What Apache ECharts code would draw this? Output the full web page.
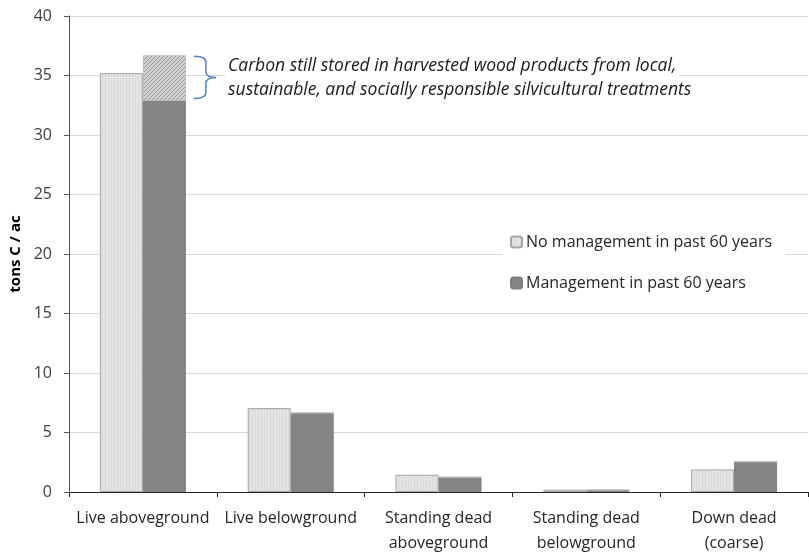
<!DOCTYPE html>
<html>
<head>
<meta charset="utf-8">
<script src="https://cdn.jsdelivr.net/npm/echarts@6/dist/echarts.min.js"></script>
<style>
  html, body { margin: 0; padding: 0; background: #ffffff; }
  #chart { width: 809px; height: 552px; }
</style>
</head>
<body>
<div id="chart"></div>
<script>
  // categories and values (tons C / ac)
  var categories = ['Live aboveground', 'Live belowground', 'Standing dead\naboveground', 'Standing dead\nbelowground', 'Down dead\n(coarse)'];
  var noManagement = [35.2, 7.05, 1.45, 0.2, 1.9];
  var management = [32.9, 6.65, 1.25, 0.17, 2.55];
  var harvestedWood = [3.8, 0, 0, 0, 0];
  var yTicks = [0, 5, 10, 15, 20, 25, 30, 35, 40];
  var noteLines = [
    'Carbon still stored in harvested wood products from local,',
    'sustainable, and socially responsible silvicultural treatments'
  ];

  var FONT = '"Open Sans", sans-serif';

  // small canvas patterns to imitate the excel fills
  function makePattern(w, h, draw) {
    var c = document.createElement('canvas');
    c.width = w; c.height = h;
    draw(c.getContext('2d'));
    return {image: c, repeat: 'repeat'};
  }
  var lightFill = makePattern(3, 3, function (g) {
    g.fillStyle = '#e4e4e4'; g.fillRect(0, 0, 3, 3);
    g.fillStyle = '#d9d9d9'; g.fillRect(0, 0, 1, 3);
  });
  var darkFill = makePattern(2, 2, function (g) {
    g.fillStyle = '#8a8a8a'; g.fillRect(0, 0, 2, 2);
    g.fillStyle = '#7f7f7f'; g.fillRect(0, 0, 1, 1); g.fillRect(1, 1, 1, 1);
  });
  var hatchFill = makePattern(4, 4, function (g) {
    g.fillStyle = '#d0d0d0'; g.fillRect(0, 0, 4, 4);
    g.fillStyle = '#999999';
    for (var i = 0; i < 4; i++) { g.fillRect(i, 3 - i, 1, 1); }
  });

  var myChart = echarts.init(document.getElementById('chart'));
  var option = {
    animation: false,
    textStyle: {fontFamily: FONT},
    grid: {left: 69, right: 1, top: 16, bottom: 60, outerBoundsMode: 'none', containLabel: false},
    legend: {
      orient: 'vertical',
      left: 502,
      top: 230,
      itemWidth: 11,
      itemHeight: 11,
      itemGap: 25,
      padding: [4, 14, 4, 8],
      backgroundColor: '#ffffff',
      data: ['No management in past 60 years', 'Management in past 60 years'],
      textStyle: {fontFamily: FONT, fontSize: 16, color: '#262626', padding: [0, 0, 0, -1]}
    },
    xAxis: {
      type: 'category',
      data: categories,
      axisLine: {lineStyle: {color: '#262626', width: 1}},
      axisTick: {show: true, length: 5, lineStyle: {color: '#262626'}},
      axisLabel: {fontFamily: FONT, fontSize: 16, color: '#262626', lineHeight: 25, margin: 14, interval: 0}
    },
    yAxis: {
      type: 'value',
      min: 0,
      max: 40,
      interval: 5,
      name: 'tons C / ac',
      nameLocation: 'middle',
      nameGap: 46,
      nameTextStyle: {fontFamily: FONT, fontSize: 15, fontWeight: 'bold', color: '#000000'},
      axisLine: {show: true, lineStyle: {color: '#595959'}},
      axisTick: {show: true, length: 5, lineStyle: {color: '#595959'}},
      axisLabel: {fontFamily: FONT, fontSize: 16, color: '#404040', margin: 17,
        formatter: function (v) { return yTicks.indexOf(v) >= 0 ? v : ''; }},
      splitLine: {lineStyle: {color: '#d9d9d9'}}
    },
    series: [{
      name: 'No management in past 60 years',
      type: 'bar',
      stack: 'none',
      barWidth: 43,
      barGap: '0%',
      data: noManagement,
      itemStyle: {color: lightFill, borderColor: '#a6a6a6', borderWidth: 1}
    }, {
      name: 'Management in past 60 years',
      type: 'bar',
      stack: 'mgmt',
      barWidth: 43,
      barGap: '0%',
      data: management,
      itemStyle: {color: darkFill, borderColor: '#7f7f7f', borderWidth: 1}
    }, {
      name: 'Harvested wood products',
      type: 'bar',
      stack: 'mgmt',
      barWidth: 43,
      barGap: '0%',
      data: harvestedWood,
      itemStyle: {color: hatchFill, borderColor: '#bdbdbd', borderWidth: 1}
    }]
  };
  myChart.setOption(option);

  // brace and note placed from the chart's own scale
  var pTop = myChart.convertToPixel({gridIndex: 0}, [0, management[0] + harvestedWood[0]]);
  var pBot = myChart.convertToPixel({gridIndex: 0}, [0, management[0]]);
  var x0 = pTop[0] + 43 + 8, y1 = pTop[1] + 1, y2 = pBot[1] - 2, ym = (y1 + y2) / 2;
  var xv = x0 + 12;
  function braceStyle() { return {fill: null, stroke: '#4f81bd', lineWidth: 1.5}; }
  function curve(a, b, c, d, e, f) {
    return {type: 'bezierCurve', shape: {x1: a, y1: b, cpx1: c, cpy1: d, x2: e, y2: f}, style: braceStyle()};
  }
  function seg(a, b, c, d) {
    return {type: 'line', shape: {x1: a, y1: b, x2: c, y2: d}, style: braceStyle()};
  }
  myChart.setOption({
    graphic: [
      curve(x0, y1, xv, y1, xv, y1 + 6),
      seg(xv, y1 + 6, xv, ym - 6),
      curve(xv, ym - 6, xv, ym, xv + 10, ym),
      curve(xv + 10, ym, xv, ym, xv, ym + 6),
      seg(xv, ym + 6, xv, y2 - 6),
      curve(xv, y2 - 6, xv, y2, x0, y2),
      {
        type: 'text',
        left: 225, top: 56,
        style: {text: noteLines[0], font: 'italic 17.5px ' + FONT, fill: '#1a1a1a',
          backgroundColor: '#ffffff', padding: [1, 3, 1, 3]}
      }, {
        type: 'text',
        left: 225, top: 80,
        style: {text: noteLines[1], font: 'italic 17.5px ' + FONT, fill: '#1a1a1a',
          backgroundColor: '#ffffff', padding: [1, 3, 1, 3]}
      }
    ]
  });
</script>
</body>
</html>
